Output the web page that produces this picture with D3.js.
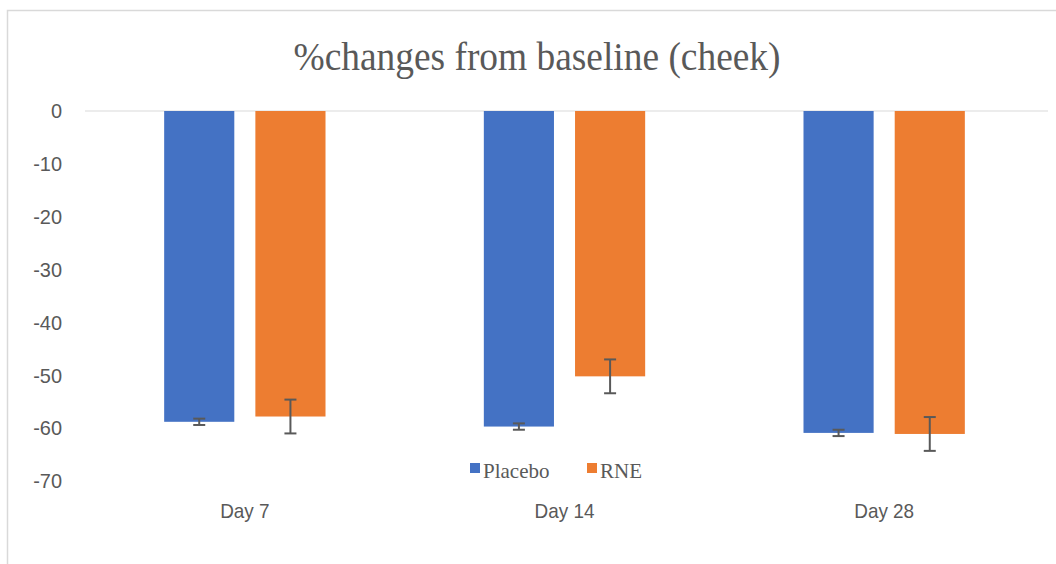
<!DOCTYPE html>
<html><head><meta charset="utf-8">
<script src="https://cdn.jsdelivr.net/npm/d3@7"></script>
<style>body{margin:0;background:#fff}svg{display:block}</style>
</head><body>
<script>
const categories = ["Day 7", "Day 14", "Day 28"];
const seriesNames = ["Placebo", "RNE"];
const placebo = [-58.8, -59.7, -60.9];
const rne = [-57.8, -50.2, -61.1];
const placeboErr = [0.6, 0.6, 0.6];
const rneErr = [3.2, 3.2, 3.2];
const yTicks = [0, -10, -20, -30, -40, -50, -60, -70];
const colors = ["#4472C4", "#ED7D31"];

const W = 1056, H = 564;
const svg = d3.select("body").append("svg").attr("width", W).attr("height", H);
svg.append("rect").attr("x", 7.5).attr("y", 10.5).attr("width", W + 10).attr("height", H + 10)
  .attr("fill", "#fff").attr("stroke", "#d9d9d9").attr("stroke-width", 1.5);

const x0 = d3.scaleBand().domain(categories).range([85, 1044]).paddingInner(0).paddingOuter(0);
const x1 = d3.scaleBand().domain(seriesNames).range([0, x0.bandwidth()]).paddingInner(0.231).paddingOuter(0.868);
const y = d3.scaleLinear().domain([0, -70]).range([111, 481]);

svg.append("text").attr("x", 537).attr("y", 70).attr("text-anchor", "middle")
  .attr("font-family", "Liberation Serif, Times New Roman, serif").attr("font-size", 39)
  .attr("fill", "#595959").attr("textLength", 487).attr("lengthAdjust", "spacingAndGlyphs")
  .text("%changes from baseline (cheek)");

// zero line
svg.append("line").attr("x1", 85).attr("x2", 1048).attr("y1", y(0)).attr("y2", y(0))
  .attr("stroke", "#d9d9d9").attr("stroke-width", 1);

// y tick labels
const yAxis = d3.axisLeft(y).tickValues(yTicks).tickSize(0).tickPadding(0).tickFormat(d => String(d));
const gy = svg.append("g").attr("transform", "translate(62,0)").call(yAxis);
gy.select(".domain").remove();
gy.selectAll("text").attr("font-family", "Liberation Sans, Arial, sans-serif")
  .attr("font-size", 21).attr("fill", "#595959")
  .each(function() { const L = this.getComputedTextLength(); d3.select(this).attr("textLength", L * 0.95).attr("lengthAdjust", "spacingAndGlyphs"); });

const data = categories.map((c, i) => ({
  cat: c,
  vals: [
    {s: "Placebo", v: placebo[i], e: placeboErr[i], c: colors[0]},
    {s: "RNE", v: rne[i], e: rneErr[i], c: colors[1]}
  ]
}));

const g = svg.selectAll("g.cat").data(data).enter().append("g").attr("class", "cat")
  .attr("transform", d => `translate(${x0(d.cat)},0)`);
g.selectAll("rect").data(d => d.vals).enter().append("rect")
  .attr("x", d => x1(d.s)).attr("width", x1.bandwidth())
  .attr("y", y(0)).attr("height", d => y(d.v) - y(0)).attr("fill", d => d.c);

const eb = g.selectAll("g.err").data(d => d.vals).enter().append("g").attr("class", "err")
  .attr("stroke", "#595959").attr("stroke-width", 2);
eb.append("line").attr("x1", d => x1(d.s) + x1.bandwidth() / 2).attr("x2", d => x1(d.s) + x1.bandwidth() / 2)
  .attr("y1", d => y(d.v - d.e)).attr("y2", d => y(d.v + d.e));
[1, -1].forEach(sgn => {
  eb.append("line").attr("x1", d => x1(d.s) + x1.bandwidth() / 2 - 6).attr("x2", d => x1(d.s) + x1.bandwidth() / 2 + 6)
    .attr("y1", d => y(d.v + sgn * d.e)).attr("y2", d => y(d.v + sgn * d.e));
});

// x labels
const xAxis = d3.axisBottom(x0).tickSize(0).tickPadding(0);
const gx = svg.append("g").attr("transform", "translate(0,503)").call(xAxis);
gx.select(".domain").remove();
gx.selectAll("text").attr("font-family", "Liberation Sans, Arial, sans-serif")
  .attr("font-size", 21).attr("fill", "#595959")
  .each(function() { const L = this.getComputedTextLength(); d3.select(this).attr("textLength", L * 0.9).attr("lengthAdjust", "spacingAndGlyphs"); });

// legend
const legX = [470, 587];
const leg = svg.selectAll("g.leg").data(seriesNames).enter().append("g").attr("class", "leg")
  .attr("transform", (d, i) => `translate(${legX[i]},0)`);
leg.append("rect").attr("x", 0).attr("y", 463).attr("width", 10).attr("height", 10).attr("fill", (d, i) => colors[i]);
leg.append("text").attr("x", 13).attr("y", 478).attr("font-family", "Liberation Serif, Times New Roman, serif")
  .attr("font-size", 21).attr("fill", "#595959").text(d => d);
</script>
</body></html>
